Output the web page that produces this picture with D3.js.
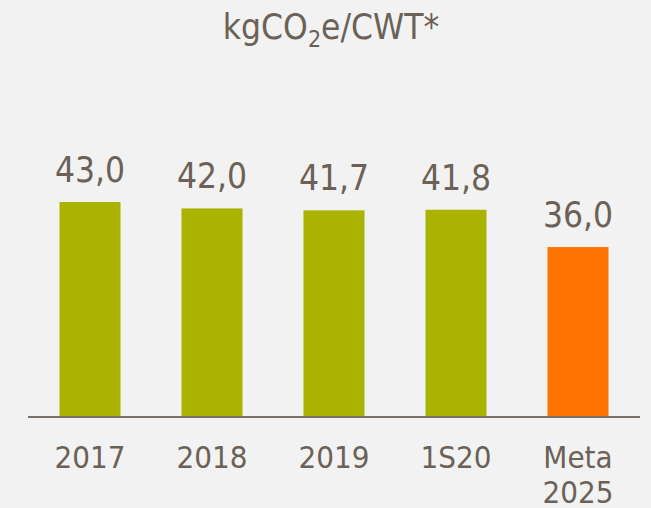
<!DOCTYPE html>
<html>
<head>
<meta charset="utf-8">
<script src="https://cdn.jsdelivr.net/npm/d3@7"></script>
<style>
  html, body { margin: 0; padding: 0; background: #f2f2f2; }
  svg { display: block; }
  text { font-family: "DejaVu Sans Condensed", "DejaVu Sans", sans-serif; fill: #6b6157; }
</style>
</head>
<body>
<svg id="chart" width="651" height="508"></svg>
<script>
// Emission intensity per period
const categories = ["2017", "2018", "2019", "1S20", "Meta 2025"];
const values = [43.0, 42.0, 41.7, 41.8, 36.0];
const barColors = ["#aab400", "#aab400", "#aab400", "#aab400", "#ff7300"];

const width = 651, height = 508;
const svg = d3.select("#chart");

const x = d3.scaleBand()
  .domain(categories)
  .range([29, 639])
  .paddingInner(0.5)
  .paddingOuter(0.25);

const y = d3.scaleLinear()
  .domain([9.6, 43])
  .range([417, 202]);

// Title with subscript
const title = svg.append("text")
  .attr("x", 331)
  .attr("y", 39)
  .attr("text-anchor", "middle")
  .style("font-size", "35px");
title.append("tspan").text("kgCO");
title.append("tspan").attr("dy", 8).style("font-size", "23px").text("2");
title.append("tspan").attr("dy", -8).text("e/CWT*");

// Bars
svg.selectAll("rect.bar")
  .data(values)
  .join("rect")
  .attr("class", "bar")
  .attr("x", (d, i) => x(categories[i]))
  .attr("width", x.bandwidth())
  .attr("y", d => y(d))
  .attr("height", d => y.range()[0] - y(d))
  .attr("fill", (d, i) => barColors[i]);

// Value labels
const fmt = d => d.toFixed(1).replace(".", ",");
svg.selectAll("text.value")
  .data(values)
  .join("text")
  .attr("class", "value")
  .attr("x", (d, i) => x(categories[i]) + x.bandwidth() / 2)
  .attr("y", d => y(d) - 20)
  .attr("text-anchor", "middle")
  .style("font-size", "35px")
  .text(fmt);

// Baseline axis
const axis = svg.append("g")
  .attr("transform", `translate(0,${y.range()[0]})`)
  .call(d3.axisBottom(x).tickSize(0).tickPadding(0).tickFormat(""));
axis.select(".domain").attr("stroke", "#7a7068").attr("stroke-width", 2)
  .attr("d", `M28,0H640`);

// Category labels (wrapped on spaces)
categories.forEach(c => {
  const lines = c.split(" ");
  const t = svg.append("text")
    .attr("x", x(c) + x.bandwidth() / 2)
    .attr("y", 468)
    .attr("text-anchor", "middle")
    .style("font-size", "31px");
  lines.forEach((l, j) => {
    t.append("tspan")
      .attr("x", x(c) + x.bandwidth() / 2)
      .attr("dy", j === 0 ? 0 : 35)
      .text(l);
  });
});
</script>
</body>
</html>
